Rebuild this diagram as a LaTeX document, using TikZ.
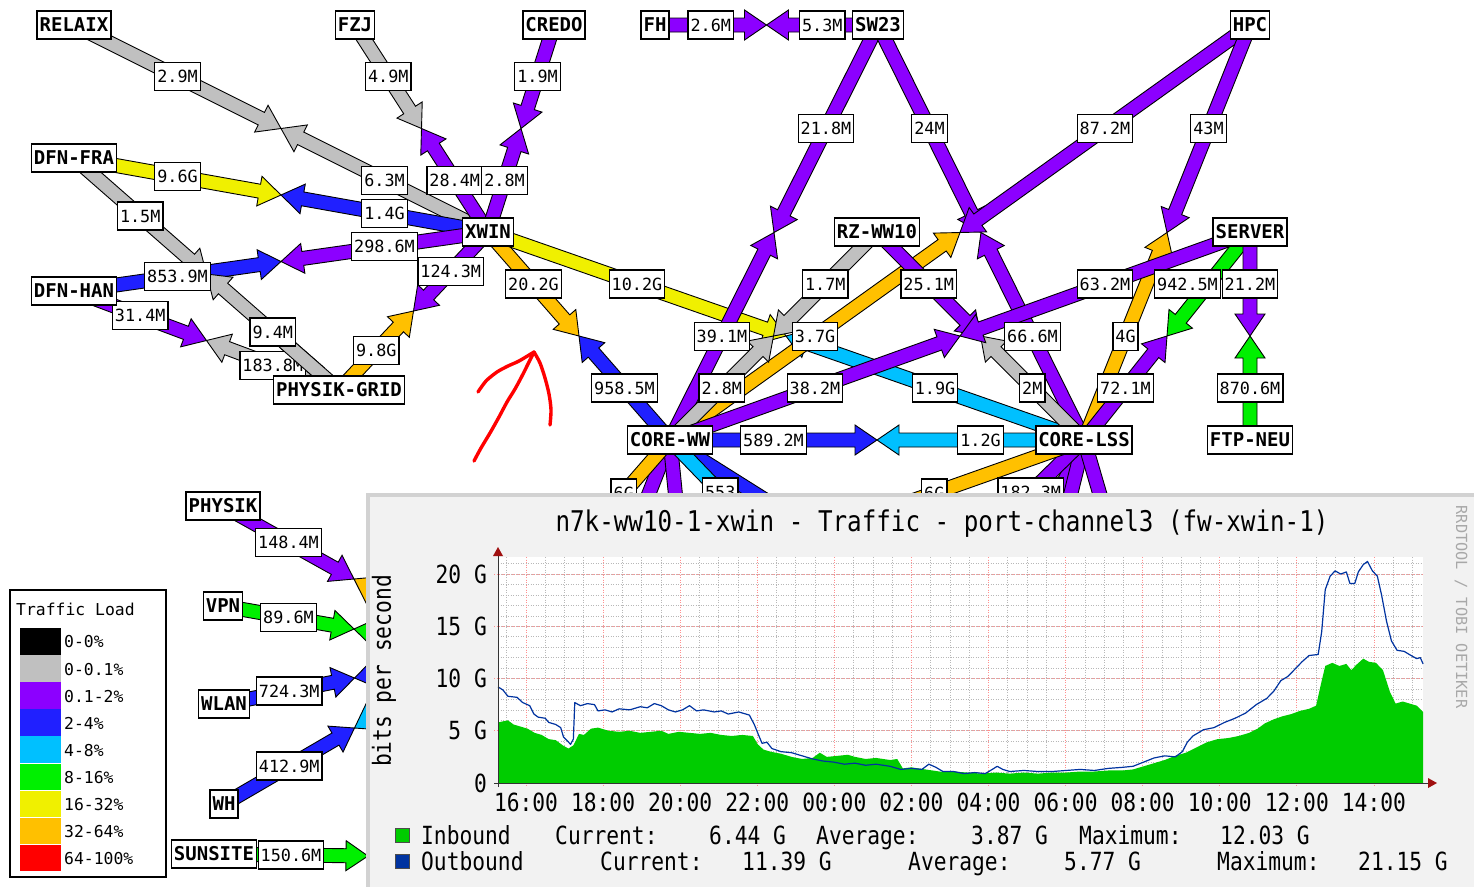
\documentclass[tikz,border=0pt]{standalone}
\usepackage{fontspec}
\usepackage{graphicx}
\usetikzlibrary{calc}
\newfontfamily\dvm{DejaVu Sans Mono}
\pgfdeclarelayer{arr}
\pgfdeclarelayer{lab}
\pgfdeclarelayer{top}
\pgfsetlayers{arr,lab,main,top}
\definecolor{wgray}{HTML}{C0C0C0}
\definecolor{wpurple}{HTML}{8C00FF}
\definecolor{wblue}{HTML}{2020FF}
\definecolor{wcyan}{HTML}{00C0FF}
\definecolor{wgreen}{HTML}{00F000}
\definecolor{wyellow}{HTML}{F0F000}
\definecolor{worange}{HTML}{FFC000}
\definecolor{wred}{HTML}{FF0000}
\definecolor{rrdbg}{HTML}{F2F2F2}
\definecolor{rrdedge}{HTML}{D2D2D2}
\definecolor{ingreen}{HTML}{00CC00}
\definecolor{outblue}{HTML}{0033A0}
\definecolor{gridmaj}{HTML}{FF9090}
\definecolor{gridmin}{HTML}{B8B8B8}
\definecolor{axred}{HTML}{A01010}
\definecolor{wmgray}{HTML}{A8A8A8}
\newcommand\nodefont{\dvm\bfseries\fontsize{19}{19}\selectfont}
\newcommand\labfont{\dvm\fontsize{16.8}{17}\selectfont}
\newcommand\legfont{\dvm\fontsize{16.4}{17}\selectfont}
\newcommand\rrdfont{\dvm\fontsize{25}{25}\selectfont}
\newcommand\rrdtitlefont{\dvm\fontsize{28.5}{29}\selectfont}
\newcommand\rrd[1]{\scalebox{0.85}[1]{#1}}
% half arrow from #1 to #2 (tip), colour #3
\newcommand\halfarrow[3]{%
  \coordinate (ha-h) at ($(#2)!22pt!(#1)$);
  \filldraw[arrowshape, fill=#3] ($(#1)!7pt!90:(#2)$) -- ($(ha-h)!7pt!90:(#2)$)
    -- ($(ha-h)!15pt!90:(#2)$) -- (#2) -- ($(ha-h)!15pt!-90:(#2)$)
    -- ($(ha-h)!7pt!-90:(#2)$) -- ($(#1)!7pt!-90:(#2)$) -- cycle;}
% full link A-B: colours AB, BA, labels AB, BA
\newcommand\wlink[6]{%
  \coordinate (mid) at ($(#1.center)!0.5!(#2.center)$);
  \begin{pgfonlayer}{arr}
    \halfarrow{#1.center}{mid}{#3}
    \halfarrow{#2.center}{mid}{#4}
  \end{pgfonlayer}
  \begin{pgfonlayer}{lab}
    \if\relax\detokenize{#5}\relax\else
      \node[lab] (#1-#2-a) at ($(#1.center)!0.25!(#2.center)$) {#5};\fi
    \if\relax\detokenize{#6}\relax\else
      \node[lab] (#1-#2-b) at ($(#1.center)!0.75!(#2.center)$) {#6};\fi
  \end{pgfonlayer}}
% one visible half towards a hidden end
\newcommand\hlink[4]{%
  \coordinate (mid) at ($(#1.center)!0.5!(#2)$);
  \begin{pgfonlayer}{arr}\halfarrow{#1.center}{mid}{#3}\end{pgfonlayer}
  \if\relax\detokenize{#4}\relax\else
  \begin{pgfonlayer}{lab}\node[lab] (#1-#2-a) at ($(#1.center)!0.25!(#2)$) {#4};\end{pgfonlayer}\fi}
\begin{document}
\begin{tikzpicture}[x=1pt,y=-1pt,
  arrowshape/.style={draw=black, line width=0.9pt, line join=miter},
  lab/.style={draw=black, line width=1.3pt, fill=white, font=\labfont, inner xsep=2.5pt, inner ysep=0pt, minimum height=28pt},
  wnode/.style={draw=black, line width=1.6pt, fill=white, font=\nodefont, inner xsep=2.5pt, inner ysep=0pt, minimum height=28pt},
  minorgrid/.style={gridmin, line width=0.6pt, dash pattern=on 1pt off 1.5pt},
  majorgrid/.style={gridmaj, line width=0.7pt, dash pattern=on 1pt off 1.5pt},
  rrdtext/.style={font=\rrdfont, inner sep=0pt},
  scribble/.style={wred, line width=3.4pt, line cap=round, line join=round}]
\useasboundingbox (0,0) rectangle (1474,887);
\begin{pgfonlayer}{arr}
\fill[white] (0,0) rectangle (1474,887);
\end{pgfonlayer}

% ---------- nodes ----------
\node[wnode] (relaix) at (74,25) {RELAIX};
\node[wnode] (fzj) at (355,25) {FZJ};
\node[wnode] (credo) at (554,25) {CREDO};
\node[wnode] (fh) at (655,25) {FH};
\node[wnode] (sw23) at (878,25) {SW23};
\node[wnode] (hpc) at (1250,25) {HPC};
\node[wnode] (dfnfra) at (74,158) {DFN-FRA};
\node[wnode] (dfnhan) at (74,291) {DFN-HAN};
\node[wnode] (xwin) at (488,232) {XWIN};
\node[wnode] (rzww10) at (877,232) {RZ-WW10};
\node[wnode] (server) at (1250,232) {SERVER};
\node[wnode] (physikgrid) at (339,390) {PHYSIK-GRID};
\node[wnode] (coreww) at (670,440) {CORE-WW};
\node[wnode] (corelss) at (1084,440) {CORE-LSS};
\node[wnode] (ftpneu) at (1250,440) {FTP-NEU};
\node[wnode] (physik) at (223,506) {PHYSIK};
\node[wnode] (vpn) at (223,606) {VPN};
\node[wnode] (wlan) at (224,704) {WLAN};
\node[wnode] (wh) at (224,804) {WH};
\node[wnode] (sunsite) at (214,854) {SUNSITE};
% hidden ends (under the graph)
\coordinate (h1) at (485,652);
\coordinate (h2) at (871,648);
\coordinate (h3) at (560,720);
\coordinate (h4) at (700,740);
\coordinate (h6) at (1115,720);
\coordinate (h7) at (960,700);
\coordinate (h8) at (1020,700);
\coordinate (h9) at (1160,700);
\coordinate (h5) at (522,858);

% ---------- links ----------
\wlink{relaix}{xwin}{wgray}{wgray}{2.9M}{6.3M}
\wlink{fzj}{xwin}{wgray}{wpurple}{4.9M}{28.4M}
\wlink{credo}{xwin}{wpurple}{wpurple}{1.9M}{2.8M}
\wlink{dfnfra}{xwin}{wyellow}{wblue}{9.6G}{1.4G}
\wlink{dfnhan}{xwin}{wblue}{wpurple}{853.9M}{298.6M}
\wlink{dfnhan}{physikgrid}{wpurple}{wgray}{31.4M}{183.8M}
\wlink{dfnfra}{physikgrid}{wgray}{wgray}{1.5M}{}
% the grey band of this link runs over the end of the 183.8M label
\begin{pgfonlayer}{lab}
\begin{scope}
\clip (280,340) rectangle (325,381);
\halfarrow{physikgrid.center}{mid}{wgray}
\end{scope}
\node[lab] (dfnfra-physikgrid-b) at ($(dfnfra.center)!0.75!(physikgrid.center)$) {9.4M};
\end{pgfonlayer}
\wlink{physikgrid}{xwin}{worange}{wpurple}{9.8G}{124.3M}
\wlink{xwin}{coreww}{worange}{wblue}{20.2G}{958.5M}
\wlink{xwin}{corelss}{wyellow}{wcyan}{10.2G}{1.9G}
\wlink{fh}{sw23}{wpurple}{wpurple}{2.6M}{5.3M}
\wlink{sw23}{coreww}{wpurple}{wpurple}{21.8M}{39.1M}
\wlink{sw23}{corelss}{wpurple}{wpurple}{24M}{66.6M}
\wlink{hpc}{coreww}{wpurple}{worange}{87.2M}{3.7G}
\wlink{hpc}{corelss}{wpurple}{worange}{43M}{4G}
\wlink{rzww10}{coreww}{wgray}{wgray}{1.7M}{2.8M}
\wlink{rzww10}{corelss}{wpurple}{wgray}{25.1M}{2M}
\wlink{server}{coreww}{wpurple}{wpurple}{63.2M}{38.2M}
\wlink{server}{corelss}{wgreen}{wpurple}{}{72.1M}
\begin{pgfonlayer}{lab}
\node[lab, xshift=-21pt] (server-corelss-a) at ($(server.center)!0.25!(corelss.center)$) {942.5M};
\end{pgfonlayer}
\wlink{server}{ftpneu}{wpurple}{wgreen}{21.2M}{870.6M}
\wlink{coreww}{corelss}{wblue}{wcyan}{589.2M}{1.2G}
\wlink{physik}{h1}{wpurple}{worange}{148.4M}{}
\wlink{vpn}{h1}{wgreen}{wgreen}{89.6M}{}
\wlink{wlan}{h1}{wblue}{wblue}{724.3M}{}
\wlink{wh}{h1}{wblue}{wcyan}{412.9M}{}
\wlink{sunsite}{h5}{wgreen}{wgreen}{150.6M}{}
\hlink{coreww}{h3}{wpurple}{}
\hlink{coreww}{h4}{wpurple}{}
\hlink{coreww}{h6}{wblue}{}
\hlink{coreww}{h2}{wcyan}{553}
\hlink{coreww}{h1}{worange}{6G}
\hlink{corelss}{h7}{wpurple}{}
\hlink{corelss}{h8}{wpurple}{}
\hlink{corelss}{h9}{wpurple}{}
\hlink{corelss}{h2}{wpurple}{182.3M}
\hlink{corelss}{h1}{worange}{6G}

% ---------- red scribble ----------
\draw[scribble] plot[smooth] coordinates {(474,461) (481,448) (490,433) (499,417) (507,402) (515,389) (522,376) (528,364) (534,352)};
\draw[scribble] plot[smooth] coordinates {(534,352) (540,363) (545,378) (549,394) (551,410) (550,425)};
\draw[scribble] plot[smooth] coordinates {(478,392) (486,381) (497,372) (508,366) (519,361) (534,352)};

% ---------- legend ----------
\draw[line width=1.3pt] (10,590) rectangle (166,877);
\node[anchor=west, font=\legfont, inner sep=0pt] (legtitle) at (16,609) {Traffic Load};
\foreach \c/\t [count=\i from 0] in {black/0-0\%, wgray/0-0.1\%, wpurple/0.1-2\%, wblue/2-4\%, wcyan/4-8\%, wgreen/8-16\%, wyellow/16-32\%, worange/32-64\%, wred/64-100\%}{
  \fill[\c] (20,628+27.1*\i) rectangle (61,654.5+27.1*\i);
  \node[anchor=west, font=\legfont, inner sep=0pt] (leg\i) at (64,642+27.1*\i) {\t};
}

% ---------- RRD graph ----------
\begin{pgfonlayer}{top}
\fill[rrdedge] (366,493) rectangle (1474,887);
\fill[rrdbg] (370,497) rectangle (1474,887);
\fill[white] (498,557) rectangle (1423,783);
\foreach \k in {1,...,21}{\draw[minorgrid] (498,783-10.45*\k) -- (1423,783-10.45*\k);}
\foreach \j in {0,...,47}{\draw[minorgrid] (506.7+19.27*\j,557) -- (506.7+19.27*\j,783);}
\foreach \k in {5,10,15,20}{\draw[majorgrid] (494,783-10.45*\k) -- (1423,783-10.45*\k);}
\foreach \k in {0,...,11}{\draw[majorgrid] (526+77.08*\k,557) -- (526+77.08*\k,787);}
\begin{scope}[shift={(369.2,783)}, x=0.704pt, y=10.45pt]
\fill[ingreen] (183,0) -- plot coordinates {(183,5.8) (190,5.9) (197,6.0) (205,5.6) (215,5.4) (225,5.2) (235,4.8) (245,4.6) (255,4.2) (265,4.1) (275,3.6) (283,3.3) (290,3.6) (298,4.7) (305,4.6) (315,5.2) (325,5.3) (340,5.0) (355,4.9) (370,5.0) (385,4.8) (400,4.9) (415,5.0) (425,4.7) (440,4.9) (455,4.8) (470,4.7) (485,4.8) (500,4.6) (515,4.5) (530,4.6) (545,4.5) (552,3.7) (560,3.2) (570,3.0) (585,2.8) (600,2.5) (615,2.3) (630,2.4) (640,2.9) (650,2.5) (665,2.6) (680,2.7) (690,2.5) (705,2.3) (720,2.4) (740,2.2) (750,2.3) (758,1.4) (770,1.5) (790,1.3) (810,1.1) (830,1.1) (850,1.0) (870,0.9) (890,1.0) (910,0.9) (930,1.0) (950,0.9) (970,1.0) (990,1.0) (1010,1.1) (1030,1.1) (1050,1.2) (1070,1.2) (1085,1.3) (1100,1.6) (1115,1.9) (1130,2.2) (1145,2.6) (1160,2.9) (1175,3.4) (1190,3.9) (1205,4.2) (1220,4.3) (1235,4.5) (1250,4.8) (1262,5.2) (1272,5.7) (1285,6.1) (1298,6.4) (1310,6.6) (1322,6.9) (1335,7.1) (1345,7.4) (1352,9.5) (1358,11.2) (1368,11.5) (1378,11.2) (1388,11.4) (1395,10.8) (1402,11.3) (1412,11.9) (1420,11.6) (1430,11.5) (1440,10.8) (1450,8.7) (1458,7.6) (1468,7.8) (1478,7.6) (1488,7.4) (1497,6.8)} -- (1497,0) -- cycle;
\draw[outblue, line width=1.2pt, line join=round] plot coordinates {(183,9.2) (190,8.9) (197,8.3) (210,8.2) (218,7.7) (228,7.4) (234,6.6) (240,6.3) (250,6.2) (255,5.8) (265,5.6) (272,5.3) (276,4.4) (282,4.0) (286,3.7) (290,4.2) (292,7.7) (300,7.4) (310,7.6) (320,7.5) (325,6.9) (335,7.0) (345,6.8) (355,7.1) (370,7.0) (385,7.3) (395,7.2) (405,7.6) (415,7.4) (425,7.0) (435,6.8) (445,7.0) (455,7.4) (465,6.9) (475,7.0) (490,6.8) (500,6.9) (510,6.6) (525,6.8) (540,6.5) (547,5.6) (553,4.6) (558,3.8) (565,3.9) (572,3.3) (585,3.0) (600,2.9) (615,2.6) (630,2.3) (645,2.1) (660,2.0) (675,1.8) (690,1.9) (705,1.7) (720,1.8) (740,1.6) (755,1.3) (770,1.4) (785,1.3) (795,1.8) (805,1.5) (815,1.1) (830,1.1) (845,0.9) (860,1.0) (875,0.9) (885,1.3) (892,1.6) (900,1.3) (910,1.1) (930,1.2) (950,1.1) (970,1.1) (990,1.2) (1010,1.3) (1030,1.2) (1050,1.4) (1070,1.5) (1085,1.6) (1100,2.0) (1115,2.4) (1130,2.6) (1145,2.5) (1155,3.0) (1162,3.9) (1170,4.5) (1185,5.1) (1200,5.3) (1215,5.8) (1230,6.2) (1245,6.7) (1260,7.5) (1275,8.1) (1285,8.8) (1295,9.8) (1305,10.2) (1315,10.9) (1325,11.6) (1335,12.2) (1348,12.3) (1353,14.5) (1358,18.5) (1365,19.8) (1372,20.3) (1380,20.0) (1388,20.2) (1393,19.1) (1400,19.1) (1405,20.2) (1412,20.9) (1418,21.2) (1425,20.3) (1432,19.8) (1438,18) (1445,15.5) (1452,13.6) (1460,12.7) (1470,12.6) (1480,12.2) (1488,11.9) (1493,12.0) (1497,11.4)};
\end{scope}
% axes
\draw[black!80, line width=1pt] (494,783) -- (1429,783);
\draw[black!80, line width=1pt] (498,787) -- (498,555);
\fill[axred] (1428,778) -- (1437,783) -- (1428,788) -- cycle;
\fill[axred] (493,556) -- (498,547) -- (503,556) -- cycle;
% texts
\node[font=\rrdtitlefont, inner sep=0pt, anchor=base] (gtitle) at (942,531) {\rrd{n7k-ww10-1-xwin - Traffic - port-channel3 (fw-xwin-1)}};
\node[rrdtext, rotate=90] (ylab) at (384,671) {\rrd{bits per second}};
\node[font=\dvm\fontsize{15.3}{16}\selectfont, text=wmgray, rotate=-90, inner sep=0pt] (credit) at (1461,607) {RRDTOOL / TOBI OETIKER};
\foreach \v/\t in {20/20 G,15/15 G,10/10 G,5/5 G,0/0}{
  \node[rrdtext, anchor=base east] (yt\v) at (487,792-10.45*\v) {\rrd{\t}};}
\foreach \t [count=\k from 0] in {16:00,18:00,20:00,22:00,00:00,02:00,04:00,06:00,08:00,10:00,12:00,14:00}{
  \node[rrdtext, anchor=base] (xt\k) at (526+77.08*\k,811) {\rrd{\t}};}
% legend
\filldraw[fill=ingreen, draw=black!70, line width=0.8pt] (395,828) rectangle (409,842);
\filldraw[fill=outblue, draw=black!70, line width=0.8pt] (395,854) rectangle (409,868);
\node[rrdtext, anchor=base west] (li1) at (421,844) {\rrd{Inbound}};
\node[rrdtext, anchor=base west] (li2) at (555,844) {\rrd{Current:}};
\node[rrdtext, anchor=base west] (li3) at (709,844) {\rrd{6.44 G}};
\node[rrdtext, anchor=base west] (li4) at (816,844) {\rrd{Average:}};
\node[rrdtext, anchor=base west] (li5) at (971,844) {\rrd{3.87 G}};
\node[rrdtext, anchor=base west] (li6) at (1079,844) {\rrd{Maximum:}};
\node[rrdtext, anchor=base west] (li7) at (1220,844) {\rrd{12.03 G}};
\node[rrdtext, anchor=base west] (lo1) at (421,870) {\rrd{Outbound}};
\node[rrdtext, anchor=base west] (lo2) at (600,870) {\rrd{Current:}};
\node[rrdtext, anchor=base west] (lo3) at (742,870) {\rrd{11.39 G}};
\node[rrdtext, anchor=base west] (lo4) at (908,870) {\rrd{Average:}};
\node[rrdtext, anchor=base west] (lo5) at (1064,870) {\rrd{5.77 G}};
\node[rrdtext, anchor=base west] (lo6) at (1217,870) {\rrd{Maximum:}};
\node[rrdtext, anchor=base west] (lo7) at (1358,870) {\rrd{21.15 G}};
\end{pgfonlayer}
\end{tikzpicture}
\end{document}
